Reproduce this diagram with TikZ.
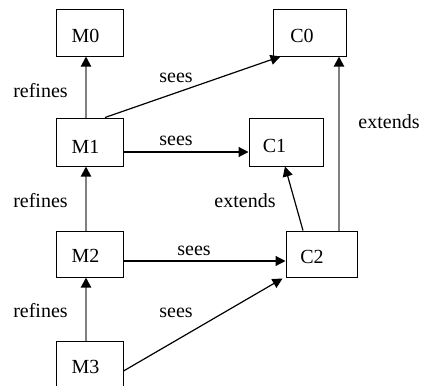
\documentclass[tikz,border=0pt]{standalone}
\usepackage{fontspec}
\setmainfont{Liberation Serif}
\usetikzlibrary{arrows.meta}
\definecolor{linkgray}{RGB}{128,128,128}
\tikzset{
  box/.style={draw=black, line width=1pt, inner sep=0pt},
  txt/.style={inner sep=0pt, anchor=base, font=\fontsize{20}{24}\selectfont},
  tip/.style={-{Triangle[length=10pt,width=10pt,color=black]}},
  graylink/.style={tip, draw=linkgray, line width=2pt},
  blacklink/.style={tip, draw=black, line width=1.2pt},
}
\begin{document}
\begin{tikzpicture}[x=1pt, y=-1pt]
  \useasboundingbox (0,0) rectangle (421,386);
  \clip (0,0) rectangle (421,386);

  % boxes
  \node[box, minimum width=67pt, minimum height=47pt] (M0) at (89.5,32.5) {};
  \node[box, minimum width=67pt, minimum height=48pt] (M1) at (89.5,142) {};
  \node[box, minimum width=67pt, minimum height=46pt] (M2) at (89.5,254) {};
  \node[box, minimum width=67pt, minimum height=48pt] (M3) at (89.5,365) {};
  \node[box, minimum width=73pt, minimum height=47pt] (C0) at (309.5,32.5) {};
  \node[box, minimum width=74pt, minimum height=48pt] (C1) at (286,142) {};
  \node[box, minimum width=71pt, minimum height=46pt] (C2) at (321.5,254) {};

  % box captions
  \node[txt] (M0t) at (85.5,42) {M0};
  \node[txt] (M1t) at (85.5,153) {M1};
  \node[txt] (M2t) at (85.5,262) {M2};
  \node[txt] (M3t) at (85.5,373) {M3};
  \node[txt] (C0t) at (302,42) {C0};
  \node[txt] (C1t) at (274.5,152) {C1};
  \node[txt] (C2t) at (312,263) {C2};

  % refines
  \draw[graylink] ([xshift=-3.5pt]M1.north) -- ([xshift=-3.5pt]M0.south);
  \draw[graylink] ([xshift=-3.5pt]M2.north) -- ([xshift=-3.5pt]M1.south);
  \draw[graylink] ([xshift=-3.5pt]M3.north) -- ([xshift=-3.5pt]M2.south);

  % extends
  \coordinate (c2up) at ([xshift=17.5pt]C2.north);
  \draw[graylink] (c2up) -- (c2up |- C0.south);
  \draw[blacklink] ([xshift=-18.5pt]C2.north) -- ([xshift=-1pt]C1.south);

  % sees
  \draw[blacklink] ([xshift=15.5pt]M1.north) -- ([xshift=-29pt]C0.south);
  \coordinate (m1out) at ([yshift=-10pt]M1.east);
  \draw[blacklink] (m1out) -- (m1out -| C1.west);
  \coordinate (m2out) at ([yshift=-7pt]M2.east);
  \draw[blacklink] (m2out) -- (m2out -| C2.west);
  \coordinate (m3out) at ([yshift=-6pt]M3.east);
  \draw[blacklink] (m3out) -- ([xshift=-3pt,yshift=-1pt]C2.south west);

  % connector labels
  \node[txt] (r1) at (40.5,97) {refines};
  \node[txt] (r2) at (40.5,207) {refines};
  \node[txt] (r3) at (40.5,317) {refines};
  \node[txt] (s1) at (176,82) {sees};
  \node[txt] (s2) at (176,145) {sees};
  \node[txt] (s3) at (194,255) {sees};
  \node[txt] (s4) at (176,317) {sees};
  \node[txt] (e1) at (389,128) {extends};
  \node[txt] (e2) at (245,207) {extends};
\end{tikzpicture}
\end{document}
